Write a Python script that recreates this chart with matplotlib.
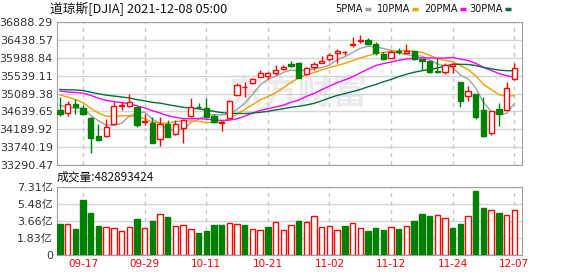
import numpy as np
import matplotlib.pyplot as plt
from matplotlib.lines import Line2D

plt.rcParams['font.family'] = ['DejaVu Sans', 'Noto Sans CJK SC']
CJK = ['Noto Sans CJK SC', 'DejaVu Sans']

dates = ['09-14', '09-15', '09-16', '09-17', '09-20', '09-21', '09-22', '09-23', '09-24', '09-27',
         '09-28', '09-29', '09-30', '10-01', '10-04', '10-05', '10-06', '10-07', '10-08', '10-11',
         '10-12', '10-13', '10-14', '10-15', '10-18', '10-19', '10-20', '10-21', '10-22', '10-25',
         '10-26', '10-27', '10-28', '10-29', '11-01', '11-02', '11-03', '11-04', '11-05', '11-08',
         '11-09', '11-10', '11-11', '11-12', '11-15', '11-16', '11-17', '11-18', '11-19', '11-22',
         '11-23', '11-24', '11-26', '11-29', '11-30', '12-01', '12-02', '12-03', '12-06', '12-07']

opens = [34677, 34610, 34827, 34735, 34484, 34025, 34025, 34317, 34770, 34777,
         34760, 34370, 34359, 33942, 34326, 34067, 34217, 34526, 34760, 34718,
         34526, 34360, 34468, 35044, 35240, 35345, 35512, 35528, 35612, 35712,
         35829, 35862, 35570, 35745, 35862, 35954, 36113, 36118, 36305, 36405,
         36430, 36330, 36071, 35987, 36163, 36113, 36155, 35946, 35912, 35662,
         35637, 35790, 35386, 35035, 35077, 34676, 34092, 34693, 34677, 35445]
highs = [34994, 34902, 34944, 34802, 34500, 34326, 34443, 34885, 34885, 35077,
         34780, 34568, 34509, 34493, 34426, 34426, 34443, 34985, 34843, 34969,
         34568, 34400, 34927, 35345, 35370, 35470, 35679, 35637, 35804, 35804,
         35912, 35870, 35745, 35887, 36038, 36096, 36196, 36163, 36514, 36555,
         36472, 36371, 36121, 36180, 36238, 36330, 36160, 35950, 35915, 35971,
         35846, 35846, 35390, 35286, 35080, 35010, 34651, 34843, 35386, 35846]
lows = [34526, 34535, 34568, 34560, 33608, 33900, 33990, 34300, 34677, 34760,
        34259, 34300, 33841, 33775, 33992, 34050, 33858, 34510, 34693, 34480,
        34342, 34150, 34440, 35040, 34994, 35320, 35500, 35445, 35553, 35679,
        35750, 35480, 35560, 35679, 35846, 35912, 35846, 36054, 36246, 36346,
        36305, 36054, 35920, 35971, 36071, 36100, 35920, 35679, 35595, 35600,
        35570, 35595, 34760, 34910, 34443, 34008, 34050, 34276, 34670, 35440]
closes = [34577, 34814, 34751, 34584, 33970, 33919, 34258, 34764, 34798, 34869,
          34299, 34390, 33844, 34326, 34002, 34314, 34417, 34755, 34746, 34496,
          34378, 34377, 34912, 35295, 35258, 35457, 35609, 35603, 35677, 35741,
          35770, 35490, 35730, 35820, 35913, 36053, 36158, 36138, 36340, 36432,
          36330, 36100, 35950, 36120, 36120, 36150, 35950, 35915, 35620, 35625,
          35800, 35820, 34910, 35145, 34500, 34025, 34645, 34578, 35235, 35725]

ma5 = [34793, 34750, 34724, 34719, 34539, 34408, 34296, 34299, 34342, 34522,
       34598, 34624, 34440, 34346, 34172, 34175, 34181, 34363, 34447, 34546,
       34558, 34550, 34582, 34692, 34844, 35060, 35306, 35444, 35521, 35617,
       35677, 35654, 35679, 35708, 35742, 35801, 35935, 36014, 36115, 36219,
       36272, 36257, 36216, 36170, 36101, 36066, 36036, 36026, 35927, 35833,
       35767, 35742, 35548, 35454, 35227, 34869, 34636, 34572, 34591, 34838]
ma10 = [35055, 35000, 34944, 34858, 34718, 34600, 34523, 34512, 34530, 34530,
        34503, 34460, 34370, 34344, 34347, 34386, 34402, 34401, 34396, 34359,
        34367, 34366, 34472, 34569, 34695, 34809, 34928, 35013, 35106, 35231,
        35369, 35480, 35562, 35614, 35680, 35739, 35794, 35846, 35911, 35980,
        36037, 36096, 36115, 36143, 36160, 36169, 36146, 36121, 36048, 35967,
        35917, 35889, 35787, 35690, 35530, 35318, 35189, 35060, 35022, 35032]
ma20 = [35152, 35126, 35116, 35100, 35043, 34972, 34916, 34884, 34863, 34834,
        34779, 34730, 34657, 34601, 34533, 34493, 34463, 34456, 34463, 34445,
        34435, 34413, 34421, 34456, 34521, 34598, 34665, 34707, 34751, 34795,
        34868, 34923, 35017, 35092, 35187, 35274, 35361, 35430, 35509, 35606,
        35703, 35788, 35838, 35879, 35920, 35954, 35970, 35984, 35980, 35974,
        35977, 35992, 35951, 35917, 35845, 35744, 35668, 35591, 35536, 35500]
ma30 = [35191, 35181, 35179, 35163, 35122, 35083, 35049, 35025, 35002, 34980,
        34936, 34904, 34867, 34848, 34811, 34777, 34745, 34723, 34708, 34676,
        34642, 34609, 34595, 34590, 34587, 34599, 34618, 34642, 34678, 34707,
        34746, 34769, 34801, 34842, 34907, 34978, 35042, 35087, 35138, 35190,
        35257, 35314, 35383, 35442, 35512, 35572, 35623, 35660, 35689, 35726,
        35774, 35822, 35821, 35816, 35790, 35742, 35710, 35676, 35661, 35660]

# volume in 亿 shares, and whether the bar is drawn red (close up on the day)
volumes = [3.34, 3.30, 2.80, 5.89, 4.51, 3.12, 2.98, 2.88, 2.59, 2.98,
           3.87, 2.91, 3.66, 4.37, 4.08, 3.09, 3.20, 2.80, 2.38, 2.59,
           3.20, 3.20, 3.41, 3.30, 3.20, 2.80, 2.70, 3.02, 3.51, 2.70,
           3.20, 3.66, 3.51, 4.15, 2.98, 3.09, 2.70, 3.12, 3.41, 2.88,
           2.59, 2.91, 2.70, 2.98, 2.80, 3.09, 3.66, 4.40, 4.19, 4.26,
           3.94, 2.91, 3.34, 4.15, 6.85, 5.04, 4.79, 4.51, 4.26, 4.83]
vol_up = [0, 1, 0, 0, 0, 0, 1, 1, 1, 1,
          0, 1, 0, 1, 0, 1, 1, 1, 0, 0,
          0, 0, 1, 1, 0, 1, 1, 0, 1, 1,
          1, 0, 1, 1, 1, 1, 1, 0, 1, 1,
          0, 0, 0, 1, 0, 1, 0, 0, 0, 1,
          1, 0, 0, 1, 0, 0, 1, 0, 1, 1]

price_ticks = [33290.47, 33740.19, 34189.92, 34639.65, 35089.38,
               35539.11, 35988.84, 36438.57, 36888.29]
vol_ticks = [0, 1.83, 3.66, 5.48, 7.31]
vol_labels = ['0', '1.83亿', '3.66亿', '5.48亿', '7.31亿']

ma_names = ['5PMA', '10PMA', '20PMA', '30PMA']
ma_colors = ['#a0a0a0', '#f0a000', '#ff00ff', '#00703c']

RED = '#ff0000'
GREEN = '#008000'
W, H = 578, 276

fig = plt.figure(figsize=(W / 100, H / 100), dpi=100)
ax = fig.add_axes([57 / W, 1 - 165.3 / H, 465 / W, 143.6 / H])
axv = fig.add_axes([57 / W, 1 - 255.3 / H, 465 / W, 68.6 / H])

x = np.arange(len(closes))
o = np.array(opens)
c = np.array(closes)
up = c >= o
col = np.where(up, RED, GREEN)

# faint watermark
ax.text(0.52, 0.5, '东方财富', transform=ax.transAxes, fontsize=25,
        color='#ebebef', ha='center', va='center', family=CJK, zorder=0.5,
        fontweight='bold')

ax.vlines(x, lows, highs, color=col, lw=1, zorder=3)
ax.bar(x, np.maximum(np.abs(c - o), 6), 0.68, bottom=np.minimum(o, c),
       facecolor=np.where(up, 'white', GREEN), edgecolor=col, lw=1, zorder=4)

for ma, mc in zip([ma5, ma10, ma20, ma30], ma_colors):
    ax.plot(x, ma, color=mc, lw=1, zorder=2.5)

vu = np.array(vol_up) == 1
axv.bar(x, volumes, 0.7, facecolor=np.where(vu, 'white', GREEN),
        edgecolor=np.where(vu, RED, GREEN), lw=1, zorder=3)

tick_idx = list(range(3, len(dates), 8))
for a in (ax, axv):
    a.set_xlim(-0.38, 60.0)
    for t in tick_idx:
        a.axvline(t, color='#c8c8c8', ls=(0, (3, 3)), lw=1, zorder=1)
    for s in a.spines.values():
        s.set_color('#a0a0a0')
    a.tick_params(length=0, labelsize=8, colors='#333333', pad=3)
    a.yaxis.grid(True, color='#d4d4d4', lw=1, zorder=1)
    a.set_axisbelow(True)

ax.set_ylim(price_ticks[0], price_ticks[-1])
ax.set_yticks(price_ticks)
ax.set_yticklabels(['%.2f' % p for p in price_ticks])
ax.set_xticks([])

axv.set_ylim(0, 7.31)
axv.set_yticks(vol_ticks)
axv.set_yticklabels(vol_labels)
axv.set_xticks(tick_idx)
axv.set_xticklabels([dates[i] for i in tick_idx], color=RED, fontsize=7.5)

fig.text(50 / W, 1 - 8.5 / H, '道琼斯[DJIA] 2021-12-08 05:00', fontsize=9.2,
         va='center', ha='left', family=CJK, color='#111111')
fig.text(57 / W, 1 - 177.5 / H, '成交量:482893424', fontsize=8.5,
         va='center', ha='left', family=CJK, color='#111111')

# legend across the top right: label, then a short colour dash
dash_x = [365, 412, 460, 505]
for name, mc, dx in zip(ma_names, ma_colors, dash_x):
    fig.text((dx - 2) / W, 1 - 8.5 / H, name, fontsize=7, va='center',
             ha='right', color='#111111')
    fig.add_artist(Line2D([dx / W, (dx + 6) / W], [1 - 9 / H, 1 - 9 / H],
                          color=mc, lw=2.5, solid_capstyle='butt'))

fig.savefig('out.png', dpi=100)
